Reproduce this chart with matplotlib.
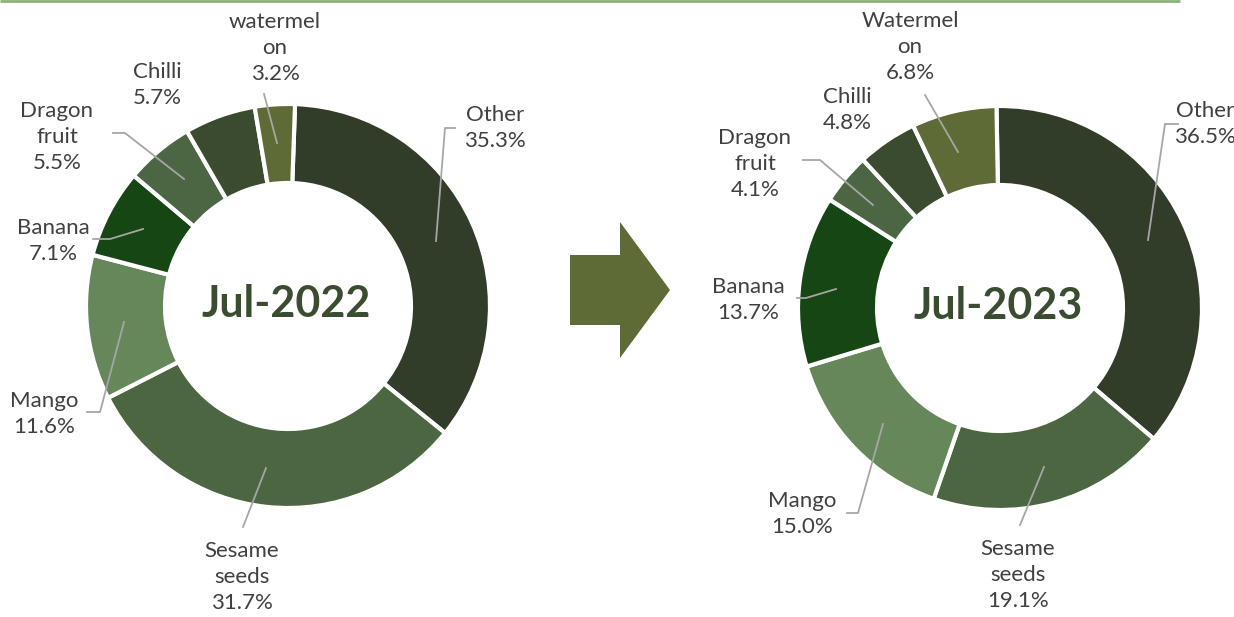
import numpy as np
import matplotlib.pyplot as plt
from matplotlib.patches import Polygon

plt.rcParams['font.family'] = ['Lato', 'DejaVu Sans']

# data
categories = ["Other", "Sesame seeds", "Mango", "Banana", "Dragon fruit", "Chilli", "watermelon"]
share_2022 = [35.3, 31.7, 11.6, 7.1, 5.5, 5.7, 3.2]
share_2023 = [36.5, 19.1, 15.0, 13.7, 4.1, 4.8, 6.8]
titles = ["Jul-2022", "Jul-2023"]

names_2022 = ["Other", "Sesame\nseeds", "Mango", "Banana", "Dragon\nfruit", "Chilli", "watermel\non"]
names_2023 = ["Other", "Sesame\nseeds", "Mango", "Banana", "Dragon\nfruit", "Chilli", "Watermel\non"]

colors = ["#323d29", "#4c6642", "#66875a", "#154613", "#4c6644", "#3a4b2f", "#5f6b37"]
H = 617

fig = plt.figure(figsize=(12.34, 6.17), dpi=100)
ax = fig.add_axes([0, 0, 1, 1])
ax.set_xlim(0, 1234)
ax.set_ylim(0, H)
ax.set_aspect("equal")
ax.axis("off")

# top rule
ax.plot([0, 1180], [616, 616], color="#8db07c", lw=2, solid_capstyle="butt")

# label centers and leader lines (pixel coords, y from top)
lab_2022 = [(495, 128), (242, 577), (44, 414), (53, 241), (57, 137), (157, 85), (275, 48)]
lead_2022 = [[(455, 128), (445, 128), (436, 241)],
             [(243, 527), (266, 468)],
             [(87, 412), (100, 412), (124, 322)],
             [(93, 239), (110, 239), (143, 229)],
             [(113, 133), (125, 133), (184, 179)],
             None,
             [(264, 94), (277, 143)]]
lab_2023 = [(1205, 124), (1018, 575), (802, 514), (748, 300), (755, 164), (847, 110), (910, 47)]
lead_2023 = [[(1178, 124), (1165, 124), (1148, 240)],
             [(1020, 525), (1044, 467)],
             [(847, 513), (858, 513), (883, 424)],
             [(797, 298), (806, 298), (836, 289)],
             [(803, 160), (820, 160), (873, 205)],
             None,
             [(925, 95), (958, 152)]]

charts = [
    (share_2022, names_2022, (288, H - 306), 88, lab_2022, lead_2022, titles[0]),
    (share_2023, names_2023, (1000, H - 308), 91, lab_2023, lead_2023, titles[1]),
]

for vals, names, center, start, labs, leads, title in charts:
    ax.pie(vals, colors=colors, startangle=start, counterclock=False,
           center=center, radius=202, frame=True,
           wedgeprops=dict(width=79, edgecolor="white", linewidth=3))
    for v, n, (lx, ly), lead in zip(vals, names, labs, leads):
        if lead is not None:
            ax.plot([p[0] for p in lead], [H - p[1] for p in lead],
                    color="#a6a6a6", lw=1.3, zorder=5)
        ax.text(lx, H - ly, f"{n}\n{v:.1f}%", ha="center", va="center",
                fontsize=16, color="#404040", linespacing=1.4)
    ax.text(center[0] - 2, center[1] + 2, title, ha="center", va="center",
            fontsize=31, fontweight="bold", color="#3a4d30")

ax.set_xlim(0, 1234)
ax.set_ylim(0, H)
ax.axis("off")

# arrow between the two charts
arrow = [(570, 255), (620, 255), (620, 222), (670, 290), (620, 358), (620, 325), (570, 325)]
ax.add_patch(Polygon([(x, H - y) for x, y in arrow], closed=True,
                     facecolor="#5f6b37", edgecolor="none"))

fig.savefig("out.png", dpi=100)
